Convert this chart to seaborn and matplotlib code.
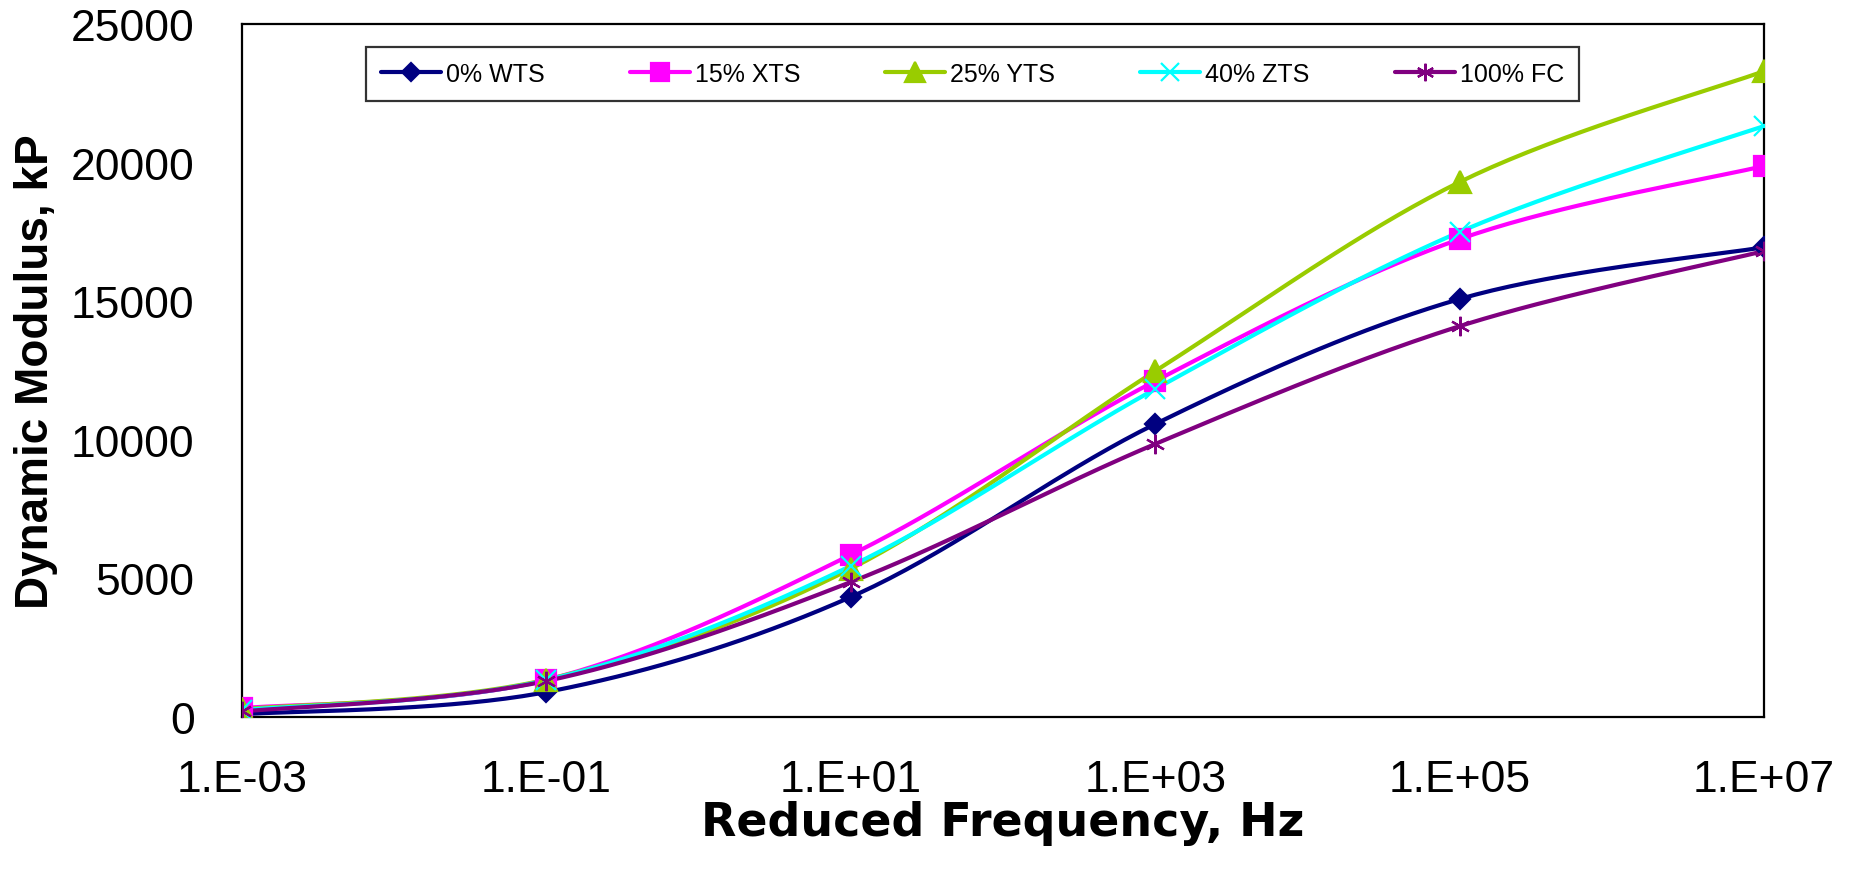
import numpy as np
import pandas as pd
import matplotlib
matplotlib.use("Agg")
import matplotlib.pyplot as plt
import seaborn as sns
from matplotlib.lines import Line2D
from matplotlib.ticker import FixedLocator, FuncFormatter

# DATA
freq = [1e-3, 1e-1, 1e1, 1e3, 1e5, 1e7]

wts_0 = [100, 900, 4330, 10570, 15080, 16950]
xts_15 = [320, 1340, 5850, 12120, 17240, 19880]
yts_25 = [280, 1350, 5350, 12480, 19300, 23300]
zts_40 = [250, 1330, 5450, 11830, 17500, 21320]
fc_100 = [200, 1300, 4870, 9850, 14100, 16810]

labels = ['0% WTS', '15% XTS', '25% YTS', '40% ZTS', '100% FC']
series = [wts_0, xts_15, yts_25, zts_40, fc_100]

x_ticks = [1e-3, 1e-1, 1e1, 1e3, 1e5, 1e7]
y_ticks = [0, 5000, 10000, 15000, 20000, 25000]

# STYLE
colors = ['#000080', '#FF00FF', '#99CC00', '#00FFFF', '#800080']
markers = ['D', 's', '^', 'x', (6, 2, 0)]
msizes = [10.5, 14, 16, 14, 14]


# Excel-like smoothed line (Bezier through the points, in log-x space)
def smooth_curve(xs, ys, n=40):
    pts = np.column_stack([np.log10(xs), ys]).astype(float)
    k = len(pts)
    parts = []
    for i in range(k - 1):
        p0 = pts[max(i - 1, 0)]
        p1 = pts[i]
        p2 = pts[i + 1]
        p3 = pts[min(i + 2, k - 1)]
        c1 = p1 + (p2 - p0) / 6
        c2 = p2 - (p3 - p1) / 6
        t = np.linspace(0, 1, n)[:, None]
        seg = ((1 - t) ** 3) * p1 + 3 * ((1 - t) ** 2) * t * c1 \
            + 3 * (1 - t) * (t ** 2) * c2 + (t ** 3) * p2
        parts.append(seg if i == 0 else seg[1:])
    curve = np.vstack(parts)
    return 10 ** curve[:, 0], curve[:, 1]


sns.set_style('white')
plt.rcParams['font.family'] = ['Liberation Sans', 'DejaVu Sans']
plt.rcParams['text.color'] = 'black'
plt.rcParams['axes.labelcolor'] = 'black'

fig, ax = plt.subplots(figsize=(18.54, 8.78), dpi=100)
fig.subplots_adjust(left=0.1305, right=0.9515, top=0.9715, bottom=0.1822)
ax.set_xscale('log')

handles = []
for lab, vals, col, mk, ms in zip(labels, series, colors, markers, msizes):
    sx, sy = smooth_curve(freq, vals)
    curve = pd.DataFrame({'x': sx, 'y': sy})
    sns.lineplot(data=curve, x='x', y='y', ax=ax, color=col, lw=3.0,
                 sort=False, estimator=None, legend=False)
    ax.plot(freq, vals, linestyle='none', marker=mk, markersize=ms,
            color=col, markeredgecolor=col, markeredgewidth=1.6, zorder=4)
    handles.append(Line2D([], [], color=col, lw=3.0, marker=mk,
                          markersize=ms * 0.9, markeredgecolor=col,
                          markeredgewidth=1.6, label=lab))

ax.set_xlim(1e-3, 1e7)
ax.set_ylim(0, 25000)

ax.xaxis.set_major_locator(FixedLocator(x_ticks))
ax.xaxis.set_minor_locator(FixedLocator([]))
ax.xaxis.set_major_formatter(
    FuncFormatter(lambda v, pos: f"1.E{int(round(np.log10(v))):+03d}"))
ax.set_yticks(y_ticks)
ax.set_yticklabels([str(v) for v in y_ticks])

ax.tick_params(axis='both', direction='in', length=14, width=1.5,
               colors='black', labelsize=32)
ax.tick_params(axis='x', pad=30)
ax.tick_params(axis='y', pad=34)
ax.tick_params(top=False, right=False)

for sp in ax.spines.values():
    sp.set_color('black')
    sp.set_linewidth(1.6)

ax.set_xlabel('Reduced Frequency, Hz', fontsize=33, fontweight='bold',
              family=['DejaVu Sans'], color='black')
ax.set_ylabel('Dynamic Modulus, kP', fontsize=33, fontweight='bold',
              color='black')
ax.xaxis.set_label_coords(0.5, -0.12)
ax.yaxis.set_label_coords(-0.1207, 0.5)

leg = ax.legend(handles=handles, ncol=5, loc='upper left',
                bbox_to_anchor=(366 / 1854, 1 - 48 / 878),
                bbox_transform=fig.transFigure,
                fontsize=18, frameon=True, fancybox=False,
                handlelength=2.4, handletextpad=0.2, columnspacing=3.4,
                borderpad=0.6, borderaxespad=0)
leg.get_frame().set_edgecolor('black')
leg.get_frame().set_linewidth(1.6)

plt.savefig('out.png', dpi=100)
